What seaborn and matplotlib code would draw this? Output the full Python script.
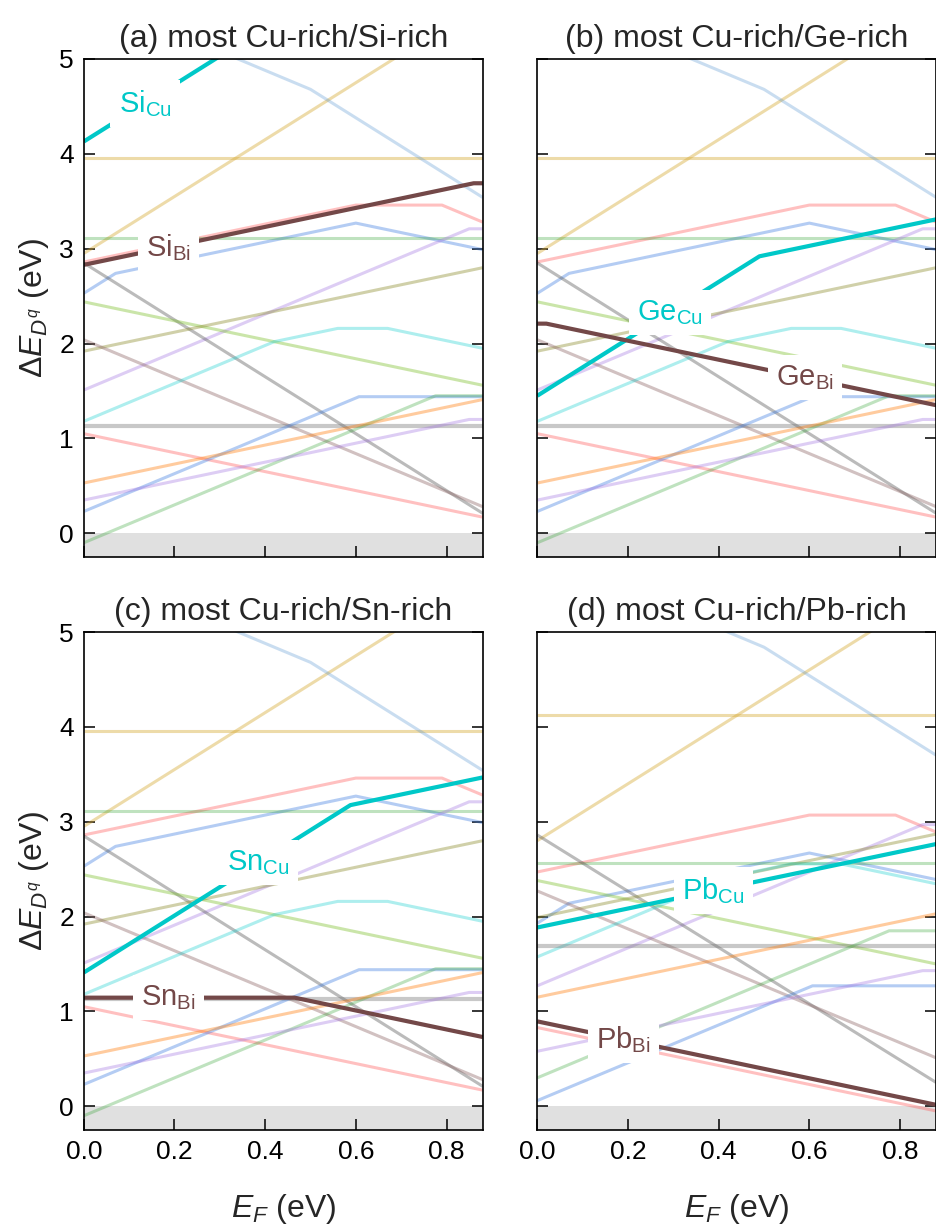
import numpy as np
import pandas as pd
import matplotlib
matplotlib.use("Agg")
import matplotlib.pyplot as plt
from matplotlib.ticker import FormatStrFormatter
import seaborn as sns

# ---------------- data ----------------
EF_MAX = 0.88
Y_MIN, Y_MAX = -0.25, 5.0
panel_titles = ["(a) most Cu-rich/Si-rich", "(b) most Cu-rich/Ge-rich",
                "(c) most Cu-rich/Sn-rich", "(d) most Cu-rich/Pb-rich"]
x_ticks = [0.0, 0.2, 0.4, 0.6, 0.8]
y_ticks = [0, 1, 2, 3, 4, 5]

# background (intrinsic) defects: E_F breakpoints, energies in (a)-(c), energies in (d)
gold_flat_x = [0.0, 0.88]
gold_flat_abc = [3.96, 3.96]
gold_flat_d = [4.12, 4.12]

gold_steep_x = [0.0, 0.88]
gold_steep_abc = [2.95, 5.59]
gold_steep_d = [2.80, 5.44]

steel_x = [0.0, 0.50, 0.88]
steel_abc = [5.68, 4.68, 3.54]
steel_d = [5.84, 4.84, 3.70]

red_hi_x = [0.0, 0.60, 0.79, 0.88]
red_hi_abc = [2.86, 3.46, 3.46, 3.28]
red_hi_d = [2.47, 3.07, 3.07, 2.89]

blue_hi_x = [0.0, 0.07, 0.60, 0.88]
blue_hi_abc = [2.53, 2.74, 3.27, 2.99]
blue_hi_d = [1.93, 2.14, 2.67, 2.39]

green_flat_x = [0.0, 0.88]
green_flat_abc = [3.11, 3.11]
green_flat_d = [2.57, 2.57]

purple_hi_x = [0.0, 0.85, 0.88]
purple_hi_abc = [1.51, 3.21, 3.21]
purple_hi_d = [1.27, 2.97, 2.97]

gray_steep_x = [0.0, 0.88]
gray_steep_abc = [2.85, 0.21]
gray_steep_d = [2.86, 0.25]

lime_x = [0.0, 0.88]
lime_abc = [2.44, 1.56]
lime_d = [2.38, 1.50]

olive_x = [0.0, 0.88]
olive_abc = [1.92, 2.80]
olive_d = [1.99, 2.87]

mauve_x = [0.0, 0.88]
mauve_abc = [2.04, 0.28]
mauve_d = [2.27, 0.51]

cyan_bg_x = [0.0, 0.42, 0.56, 0.67, 0.88]
cyan_bg_abc = [1.18, 2.02, 2.16, 2.16, 1.95]
cyan_bg_d = [1.575, 2.415, 2.555, 2.555, 2.345]

gray_flat_x = [0.0, 0.88]
gray_flat_abc = [1.13, 1.13]
gray_flat_d = [1.69, 1.69]

red_lo_x = [0.0, 0.88]
red_lo_abc = [1.05, 0.17]
red_lo_d = [0.83, -0.05]

blue_lo_x = [0.0, 0.607, 0.88]
blue_lo_abc = [0.23, 1.44, 1.44]
blue_lo_d = [0.06, 1.27, 1.27]

green_lo_x = [0.0, 0.776, 0.88]
green_lo_abc = [-0.10, 1.45, 1.45]
green_lo_d = [0.30, 1.85, 1.85]

orange_x = [0.0, 0.88]
orange_abc = [0.53, 1.41]
orange_d = [1.15, 2.03]

purple_lo_x = [0.0, 0.85, 0.88]
purple_lo_abc = [0.35, 1.20, 1.20]
purple_lo_d = [0.58, 1.43, 1.43]

# highlighted dopant defects
si_cu_x = [0.0, 0.30]
si_cu_y = [4.13, 5.03]
si_bi_x = [0.0, 0.86, 0.88]
si_bi_y = [2.83, 3.69, 3.69]
ge_cu_x = [0.0, 0.49, 0.88]
ge_cu_y = [1.45, 2.92, 3.31]
ge_bi_x = [0.0, 0.02, 0.88]
ge_bi_y = [2.21, 2.21, 1.35]
sn_cu_x = [0.0, 0.588, 0.88]
sn_cu_y = [1.41, 3.175, 3.467]
sn_bi_x = [0.0, 0.465, 0.88]
sn_bi_y = [1.145, 1.145, 0.73]
pb_cu_x = [0.0, 0.88]
pb_cu_y = [1.885, 2.765]
pb_bi_x = [0.0, 0.88]
pb_bi_y = [0.895, 0.015]

cu_labels = ["Si", "Ge", "Sn", "Pb"]
cu_label_ef = [0.135, 0.293, 0.386, 0.389]
bi_label_ef = [0.187, 0.591, 0.187, 0.19]

# ---------------- style ----------------
sns.set_theme(style="ticks")
plt.rcParams["font.family"] = ["Liberation Sans", "DejaVu Sans"]
plt.rcParams["mathtext.fontset"] = "custom"
plt.rcParams["mathtext.rm"] = "Liberation Sans"
plt.rcParams["mathtext.it"] = "Liberation Sans:italic"
plt.rcParams["mathtext.bf"] = "Liberation Sans:bold"
plt.rcParams["lines.solid_capstyle"] = "butt"

CU_COLOR = "#00c8c8"
BI_COLOR = "#734848"

bg_lines = [
    (gold_flat_x, gold_flat_abc, gold_flat_d, "#d4a52a", 0.40),
    (gold_steep_x, gold_steep_abc, gold_steep_d, "#d4a52a", 0.40),
    (steel_x, steel_abc, steel_d, "#4f8fcf", 0.30),
    (red_hi_x, red_hi_abc, red_hi_d, "#ff4d4d", 0.35),
    (blue_hi_x, blue_hi_abc, blue_hi_d, "#3a7be0", 0.38),
    (green_flat_x, green_flat_abc, green_flat_d, "#2ca02c", 0.30),
    (purple_hi_x, purple_hi_abc, purple_hi_d, "#a070e0", 0.35),
    (gray_steep_x, gray_steep_abc, gray_steep_d, "#555555", 0.40),
    (lime_x, lime_abc, lime_d, "#7cbf2a", 0.40),
    (olive_x, olive_abc, olive_d, "#8a8a2a", 0.40),
    (mauve_x, mauve_abc, mauve_d, "#8c6464", 0.40),
    (cyan_bg_x, cyan_bg_abc, cyan_bg_d, "#17cfcf", 0.35),
    (gray_flat_x, gray_flat_abc, gray_flat_d, "#777777", 0.40),
    (red_lo_x, red_lo_abc, red_lo_d, "#ff4d4d", 0.35),
    (blue_lo_x, blue_lo_abc, blue_lo_d, "#3a7be0", 0.38),
    (green_lo_x, green_lo_abc, green_lo_d, "#2ca02c", 0.30),
    (orange_x, orange_abc, orange_d, "#ff7f0e", 0.40),
    (purple_lo_x, purple_lo_abc, purple_lo_d, "#a070e0", 0.35),
]

highlights = [
    ((si_cu_x, si_cu_y), (si_bi_x, si_bi_y)),
    ((ge_cu_x, ge_cu_y), (ge_bi_x, ge_bi_y)),
    ((sn_cu_x, sn_cu_y), (sn_bi_x, sn_bi_y)),
    ((pb_cu_x, pb_cu_y), (pb_bi_x, pb_bi_y)),
]

W, H = 937, 1224
fig = plt.figure(figsize=(W / 100, H / 100), dpi=100)
ax_w, ax_h = 399 / W, 498 / H
lefts = [83.8 / W, 537.3 / W]
bottoms = [1 - 557 / H, 1 - 1130 / H]
positions = [(lefts[0], bottoms[0]), (lefts[1], bottoms[0]),
             (lefts[0], bottoms[1]), (lefts[1], bottoms[1])]


def draw(ax, x, y, color, alpha, lw, z):
    df = pd.DataFrame({"EF": x, "E": y})
    sns.lineplot(data=df, x="EF", y="E", ax=ax, color=color, alpha=alpha,
                 lw=lw, estimator=None, sort=False, zorder=z, legend=False)


label_box = dict(boxstyle="square,pad=0.28", fc="white", ec="none")

for i, (px, py) in enumerate(positions):
    ax = fig.add_axes([px, py, ax_w, ax_h])
    ax.axhspan(Y_MIN, 0, color="#e0e0e0", lw=0, zorder=0)
    for x, yabc, yd, col, a in bg_lines:
        y = yd if i == 3 else yabc
        lw = 3.0 if x is gray_flat_x else 2.2
        draw(ax, x, y, col, a, lw, 1)
    (cx, cy), (bx, by) = highlights[i]
    draw(ax, cx, cy, CU_COLOR, 1.0, 3.0, 3)
    draw(ax, bx, by, BI_COLOR, 1.0, 3.0, 3)
    el = cu_labels[i]
    ax.text(cu_label_ef[i], float(np.interp(cu_label_ef[i], cx, cy)),
            el + r"$_{\mathregular{Cu}}$", color=CU_COLOR, fontsize=21,
            ha="center", va="center", bbox=label_box, zorder=5)
    ax.text(bi_label_ef[i], float(np.interp(bi_label_ef[i], bx, by)),
            el + r"$_{\mathregular{Bi}}$", color=BI_COLOR, fontsize=21,
            ha="center", va="center", bbox=label_box, zorder=5)

    ax.set_xlim(0, EF_MAX)
    ax.set_ylim(Y_MIN, Y_MAX)
    ax.set_xticks(x_ticks)
    ax.set_yticks(y_ticks)
    ax.xaxis.set_major_formatter(FormatStrFormatter("%.1f"))
    ax.yaxis.set_major_formatter(FormatStrFormatter("%d"))
    ax.tick_params(direction="in", length=8, width=1.1, top=False, right=True,
                   labelsize=19, pad=7, colors="black")
    for s in ax.spines.values():
        s.set_linewidth(1.2)
        s.set_color("black")
        s.set_zorder(6)
    ax.set_title(panel_titles[i], fontsize=23, pad=9)
    ax.set_xlabel("")
    ax.set_ylabel("")
    if i in (1, 3):
        ax.tick_params(labelleft=False)
    else:
        ax.set_ylabel(r"$\mathit{\Delta E}_{D^q}$ (eV)", fontsize=23, labelpad=6)
    if i in (0, 1):
        ax.tick_params(labelbottom=False)
    else:
        ax.set_xlabel(r"$E_F$ (eV)", fontsize=23, labelpad=20)

fig.savefig("out.png", dpi=100)
